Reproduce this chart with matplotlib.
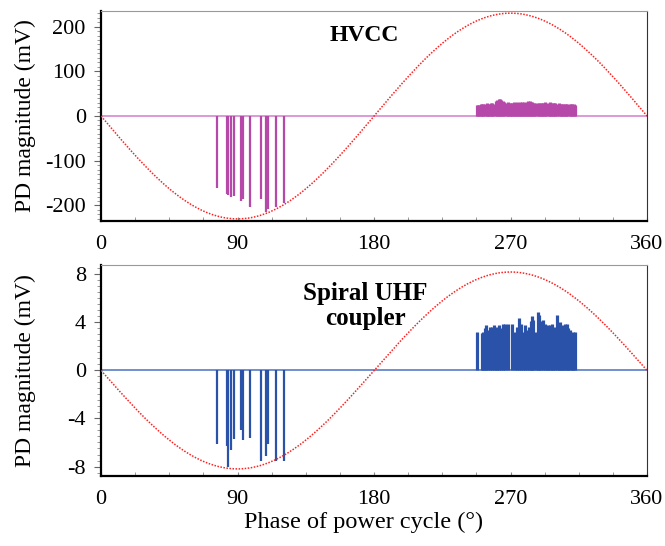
import numpy as np
import matplotlib.pyplot as plt
from matplotlib.ticker import MultipleLocator

plt.rcParams['font.family'] = ['Liberation Serif', 'DejaVu Serif']

# ------------------------------------------------------------
# Data
# negative-half-cycle pulses (same phases in both sensors)
neg_phase = [76.3, 83.0, 83.9, 85.5, 87.9, 92.4, 93.8, 98.5, 105.6, 108.9, 110.2, 115.3, 120.8]
hvcc_neg = [-160, -175, -177, -182, -178, -189, -186, -203, -186, -214, -207, -203, -195]
uhf_neg = [-6.1, -6.3, -8.0, -6.6, -5.7, -5.0, -5.8, -5.6, -7.5, -7.1, -6.1, -7.5, -7.5]

# positive-half-cycle pulses, HVCC
hvcc_pos_phase = [247.7, 248.6, 249.4, 250.3, 251.2, 252.1,
                  253.4, 254.3, 255.2, 256.0, 256.9, 257.8, 258.7,
                  260.4, 261.3, 262.2, 263.1, 263.9, 264.8, 265.7,
                  267.7, 268.6, 269.4, 270.3, 271.2, 272.1, 273.0,
                  274.3, 275.2, 276.0, 276.9, 277.8, 278.7, 279.6,
                  280.9, 281.8, 282.6, 283.5, 284.4, 285.3, 286.1,
                  288.1, 289.0, 289.9, 290.8, 291.6, 292.5, 293.4,
                  295.2, 296.0, 296.9, 297.8, 298.7, 299.6, 300.4,
                  302.2, 303.1, 303.9, 304.8, 305.7, 306.6, 307.5,
                  309.0, 309.9, 310.8, 311.6, 312.3]
hvcc_pos = [24, 25, 25, 26, 26, 26,
            28, 29, 28, 28, 30, 29, 28,
            33, 35, 37, 38, 35, 33, 31,
            30, 31, 29, 29, 30, 31, 30,
            31, 30, 31, 30, 32, 31, 30,
            31, 33, 34, 32, 31, 30, 30,
            30, 30, 29, 29, 30, 31, 30,
            30, 31, 29, 29, 30, 29, 28,
            29, 28, 28, 27, 28, 28, 27,
            27, 26, 26, 26, 25]

# positive-half-cycle pulses, spiral UHF coupler
uhf_pos_phase = [247.7, 251.0, 252.1, 253.2, 253.8, 255.4, 256.5, 258.0, 259.3, 260.4,
                 261.3, 262.4, 263.5, 265.3, 266.4, 268.6, 270.8, 273.0, 274.5, 275.6,
                 276.7, 278.5, 279.6, 280.7, 282.2, 283.3, 284.2, 285.1, 286.8, 287.9,
                 289.0, 290.1, 291.2, 292.7, 293.8, 294.9, 296.0, 297.1, 298.2, 299.3,
                 300.4, 301.8, 302.6, 303.7, 304.8, 305.9, 307.0, 308.1, 309.2, 310.3,
                 311.4, 312.5]
uhf_pos = [3.2, 3.1, 3.2, 3.5, 3.8, 3.4, 3.6, 3.6, 3.8, 3.4,
           3.6, 3.8, 3.5, 3.9, 3.9, 3.9, 3.9, 3.2, 3.6, 4.4,
           3.9, 3.2, 3.8, 3.4, 3.6, 4.1, 4.5, 4.2, 3.2, 4.9,
           4.6, 4.1, 4.2, 3.9, 3.5, 3.8, 3.8, 3.9, 3.4, 3.6,
           4.6, 3.6, 4.0, 3.8, 3.4, 3.9, 3.9, 3.5, 3.4, 2.8,
           3.2, 3.2]

# reference supply voltage amplitudes (scaled to each axis)
hvcc_amp = 230
uhf_amp = 8.2

xticks = [0, 90, 180, 270, 360]

# ------------------------------------------------------------
fig = plt.figure(figsize=(6.65, 5.46), dpi=100)
ax1 = fig.add_axes([0.152, 0.595, 0.821, 0.385])
ax2 = fig.add_axes([0.152, 0.128, 0.821, 0.387])

phase = np.linspace(0, 360, 721)

panels = [
    (ax1, hvcc_neg, hvcc_pos_phase, hvcc_pos, hvcc_amp, '#b548a8', '#d27fcb',
     (-235, 235), [-200, -100, 0, 100, 200], 10),
    (ax2, uhf_neg, uhf_pos_phase, uhf_pos, uhf_amp, '#2a52a8', '#4a72c0',
     (-8.8, 8.8), [-8, -4, 0, 4, 8], 0.5),
]

for ax, neg, pos_ph, pos, amp, col, base_col, ylim, yticks, minor in panels:
    ax.axhline(0, color=base_col, lw=1.1, zorder=1)
    ax.vlines(neg_phase, 0, neg, color=col, lw=1.6, zorder=2)
    ax.vlines(pos_ph, 0, pos, color=col, lw=2.3, zorder=2)
    ax.plot(phase, -amp * np.sin(np.radians(phase)), color='#ff2020',
            lw=1.1, linestyle=(0, (1, 1)), zorder=3)

    ax.set_xlim(0, 360)
    ax.set_ylim(*ylim)
    ax.set_xticks(xticks)
    ax.xaxis.set_minor_locator(MultipleLocator(22.5))
    ax.set_yticks(yticks)
    ax.yaxis.set_minor_locator(MultipleLocator(minor))
    ax.tick_params(axis='x', which='both', direction='in', length=3,
                   color='#888888', labelsize=16, pad=10)
    ax.tick_params(axis='y', which='major', direction='out', length=5,
                   color='#666666', labelsize=16, pad=6)
    ax.tick_params(axis='y', which='minor', direction='out', length=3,
                   color='#888888')
    ax.spines['top'].set_color('#999999')
    ax.spines['right'].set_color('#333333')
    ax.spines['left'].set_linewidth(1.6)
    ax.spines['bottom'].set_linewidth(1.6)
    ax.set_ylabel('PD magnitude (mV)', fontsize=17)
    ax.yaxis.set_label_coords(-0.12, 0.5)

ax1.set_yticklabels(['-200', '-100', '0', '100', '200'])
ax2.set_yticklabels(['-8', '-4', '0', '4', '8'])

ax1.text(0.483, 0.885, 'HVCC', transform=ax1.transAxes, ha='center', va='center',
         fontsize=17, fontweight='bold')
ax2.text(0.484, 0.805, 'Spiral UHF\ncoupler', transform=ax2.transAxes, ha='center',
         va='center', fontsize=18, fontweight='bold', linespacing=1.1)

ax2.set_xlabel('Phase of power cycle (°)', fontsize=17.5)
ax2.xaxis.set_label_coords(0.481, -0.17)

plt.savefig('out.png', dpi=100)
